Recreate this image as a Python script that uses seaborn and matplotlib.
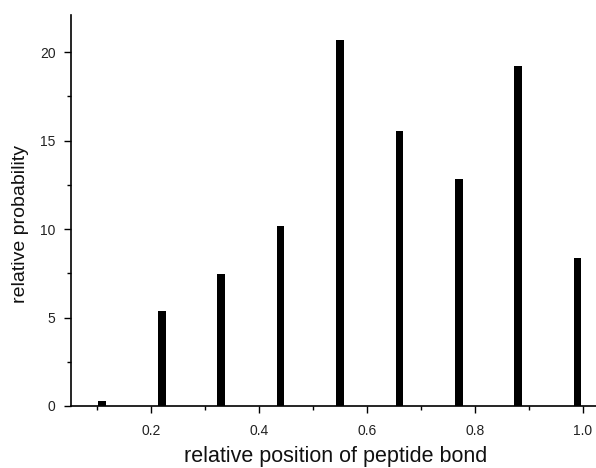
import matplotlib
matplotlib.use("Agg")
import matplotlib.pyplot as plt
import seaborn as sns
import pandas as pd
from matplotlib.ticker import MultipleLocator

positions = [0.11, 0.22, 0.33, 0.44, 0.55, 0.66, 0.77, 0.88, 0.99]
probability = [0.3, 5.37, 7.45, 10.2, 20.7, 15.54, 12.82, 19.21, 8.39]
x_ticks = [0.2, 0.4, 0.6, 0.8, 1.0]
x_tick_labels = ["0.2", "0.4", "0.6", "0.8", "1.0"]
y_ticks = [0, 5, 10, 15, 20]

df = pd.DataFrame({"pos": positions, "prob": probability})

sns.set_style("ticks")
plt.rcParams["font.family"] = ["Liberation Sans", "DejaVu Sans"]

fig = plt.figure(figsize=(5.96, 4.68), dpi=100)
ax = fig.add_axes([0.119, 0.1325, 0.881, 0.8355])

sns.barplot(data=df, x="pos", y="prob", native_scale=True, width=0.13,
            color="black", edgecolor="black", linewidth=0, saturation=1, ax=ax)

ax.set_xlim(0.052, 1.024)
ax.set_ylim(0, 22.1)
ax.set_xticks(x_ticks)
ax.set_xticklabels(x_tick_labels)
ax.set_yticks(y_ticks)
ax.xaxis.set_minor_locator(MultipleLocator(0.1))
ax.yaxis.set_minor_locator(MultipleLocator(2.5))
ax.tick_params(which="major", direction="out", length=5, width=1, labelsize=10, colors="black", labelcolor="#222222")
ax.tick_params(axis="x", which="major", pad=8)
ax.tick_params(axis="y", which="major", pad=6)
ax.tick_params(which="minor", direction="out", length=3, width=1, colors="black")

sns.despine(ax=ax)
for s in ["left", "bottom"]:
    ax.spines[s].set_linewidth(1.2)
    ax.spines[s].set_color("black")

ax.set_xlabel("relative position of peptide bond", fontsize=15.5, color="#111111")
ax.set_ylabel("relative probability", fontsize=14, color="#111111")
ax.xaxis.set_label_coords(0.505, -0.103)
ax.yaxis.set_label_coords(-0.08, 0.466)

fig.savefig("out.png", dpi=100)
